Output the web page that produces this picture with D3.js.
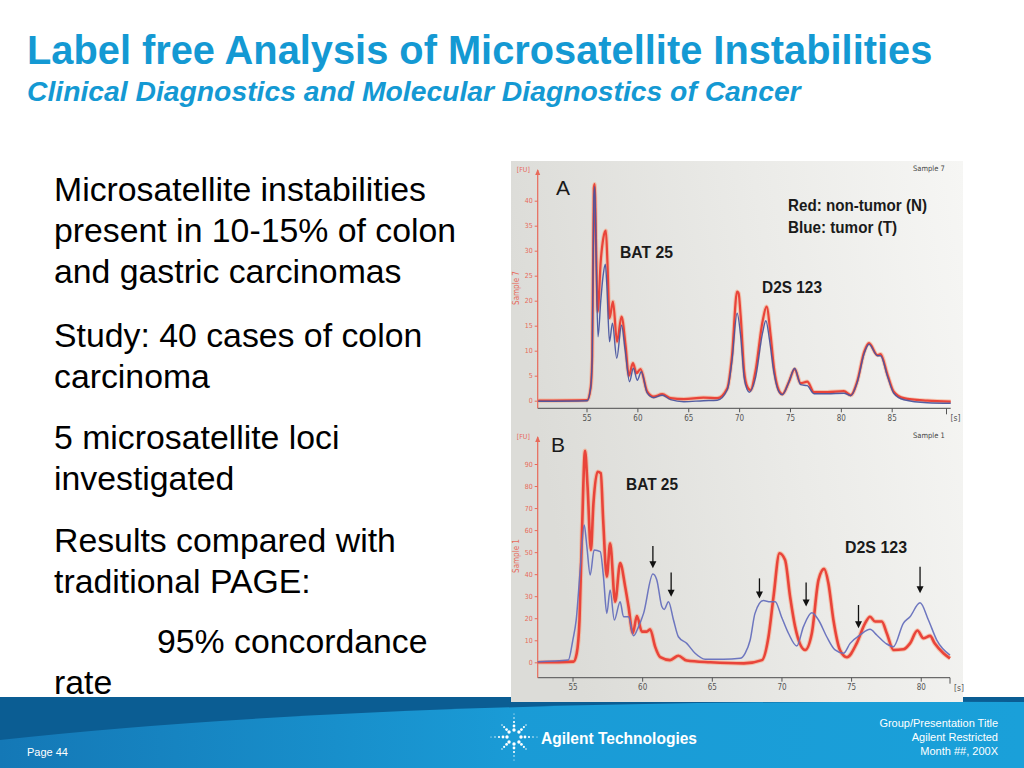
<!DOCTYPE html>
<html><head><meta charset="utf-8">
<script src="https://cdn.jsdelivr.net/npm/d3@7"></script>
<style>html,body{margin:0;padding:0;background:#fff;}svg{display:block;}</style>
</head><body>
<svg id="slide" width="1024" height="768"></svg>
<script>
// ---------- data ----------
const ticksA_x = [55, 60, 65, 70, 75, 80, 85];
const ticksA_y = [0, 5, 10, 15, 20, 25, 30, 35, 40];
const ticksB_x = [55, 60, 65, 70, 75, 80];
const ticksB_y = [0, 10, 20, 30, 40, 50, 60, 70, 80, 90];

// Panel A: [time s, FU]
const redA = [[50.25,0],[55.07,0.1],[55.4,2.5],[55.56,9],[55.72,42.5],[55.8,43.3],[55.95,30],[56.1,17.8],[56.4,28],[56.65,32.5],[56.9,34],[57.05,28],[57.26,16.5],[57.6,19.8],[58.0,11.8],[58.44,16.8],[58.84,11],[59.16,5],[59.56,7.5],[59.92,5.5],[60.3,6.3],[60.97,1.8],[61.6,0.8],[62.44,1.3],[63.26,0.5],[64.57,0.3],[66.5,0.6],[67.85,0.5],[68.84,2.5],[69.3,9],[69.8,21.8],[69.95,21.5],[70.15,17],[70.5,5.8],[70.8,2.8],[71.13,2.1],[71.6,5.8],[72.3,15.8],[72.7,18.8],[73.1,13],[73.43,6.5],[73.9,2.1],[74.25,1.3],[74.9,3.8],[75.46,6.3],[76.05,3.5],[76.7,3.8],[77.36,1.7],[78.67,1.7],[80.3,1.9],[80.97,1.1],[81.6,3.8],[82.3,9.8],[82.77,11.5],[83.6,9.1],[83.9,9.3],[84.6,5.1],[85.2,1.8],[86.2,0.5],[88.5,0],[90.8,-0.2]];
const blueA = [[50.25,-0.1],[55.07,0],[55.4,2.5],[55.56,9],[55.72,41],[55.82,42.8],[55.95,28],[56.13,12.8],[56.4,20],[56.63,25],[56.85,27.3],[57.0,23],[57.26,11.8],[57.55,15.5],[57.97,8.5],[58.44,15.1],[58.8,10],[59.23,3.8],[59.6,6.5],[59.99,4.1],[60.38,5.8],[60.97,1.5],[61.6,0.6],[62.44,1.1],[63.26,0.2],[64.57,-0.2],[66.5,0],[67.85,0.1],[68.84,2.2],[69.3,8],[69.8,17.5],[70.15,13],[70.5,4.5],[70.8,2.2],[71.0,1.7],[71.6,4.5],[72.3,13.5],[72.63,16],[73.0,12],[73.43,5.5],[73.9,1.8],[74.25,1.2],[74.9,3.8],[75.46,6.5],[76.05,3.2],[76.7,3.0],[77.36,1.4],[78.67,1.4],[80.3,1.5],[80.97,1.0],[81.6,3.6],[82.3,9.5],[82.77,11.3],[83.6,9.0],[83.9,9.0],[84.6,4.8],[85.2,1.5],[86.2,0.2],[88.5,-0.4],[90.8,-0.5]];

// Panel B: [time s, FU]
const redB = [[52.5,0],[55.07,0.3],[55.3,4],[55.5,19],[55.67,57],[55.9,96],[56.08,79.7],[56.32,51],[56.5,72],[56.8,86.5],[57.03,85.8],[57.2,64.6],[57.46,38.9],[57.7,54],[58.06,27.5],[58.42,45],[58.78,34.3],[59.02,25.3],[59.33,13.2],[59.62,21],[59.98,13.9],[60.33,13.9],[60.57,15],[60.93,7.1],[61.3,2.3],[62.0,1],[62.6,3],[63.2,0.8],[64.9,0],[67.3,-0.5],[68.6,1],[69.07,11.6],[69.43,29.8],[69.86,49.5],[70.26,46.4],[70.62,29.8],[70.98,16.2],[71.7,5.6],[72.18,13.2],[72.66,37.4],[73.06,42.4],[73.37,35.9],[73.73,19.2],[74.2,5.6],[74.7,2.3],[75.4,8.6],[76.0,17.7],[76.36,20.7],[76.72,18.5],[77.2,18.5],[77.56,13.2],[78.04,5.6],[78.75,5.9],[79.23,8.6],[79.76,14.4],[80.19,10.9],[80.67,12],[81.0,8.6],[81.63,4.1],[82.1,1.8]];
const blueB = [[52.5,0.3],[54.7,1],[55.02,10],[55.26,19],[55.55,42],[55.84,62.3],[56.03,52.5],[56.27,39.6],[56.55,51],[56.99,50.2],[57.22,38.9],[57.46,22.2],[57.7,32.8],[58.0,19.2],[58.42,27.5],[58.66,20.7],[59.02,20.7],[59.38,12],[59.74,16.2],[60.1,22.2],[60.77,40.1],[61.05,37.4],[61.41,25.3],[61.58,24],[61.89,27.5],[62.25,19.2],[62.6,11.6],[63.2,8.6],[63.8,4.1],[64.52,1.4],[65.84,1.4],[67.03,1.8],[67.39,4.1],[67.75,10],[68.1,22.2],[68.7,28],[69.19,27.5],[69.55,27.5],[70.0,20.7],[70.5,13.2],[71.1,7.4],[71.58,16.2],[72.18,22.5],[72.66,19.2],[73.25,11.6],[73.85,5.6],[74.45,4.1],[74.93,8.6],[75.65,12.4],[76.36,15],[76.84,12.4],[77.56,8.3],[78.04,7.1],[78.75,17.7],[79.23,20.7],[79.95,27],[80.55,19.2],[81.15,10.1],[82.1,3.3]];

// arrows in B: [time, FU top, FU tip]
const arrowsB = [[60.77,52.8,42.7],[62.08,40.7,29.8],[68.42,38.1,29.0],[71.77,36.2,25.3],[75.53,26.0,15.4],[79.95,43.4,31.3]];

const bodyParagraphs = [
  ["Microsatellite instabilities", "present in 10-15% of colon", "and gastric carcinomas"],
  ["Study: 40 cases of colon", "carcinoma"],
  ["5 microsatellite loci", "investigated"],
  ["Results compared with", "traditional PAGE:"],
  ["95% concordance", "rate"]
];
const footerRight = ["Group/Presentation Title", "Agilent Restricted", "Month ##, 200X"];

// ---------- drawing ----------
const svg = d3.select("#slide");
const defs = svg.append("defs");
const bg = defs.append("linearGradient").attr("id","imgbg").attr("x1","0").attr("x2","1").attr("y1","0.2").attr("y2","0");
bg.append("stop").attr("offset","0").attr("stop-color","#dcdcd8");
bg.append("stop").attr("offset","0.55").attr("stop-color","#ebebe8");
bg.append("stop").attr("offset","1").attr("stop-color","#f6f6f4");
const fg = defs.append("linearGradient").attr("id","footbg").attr("x1","0").attr("x2","1").attr("y1","0").attr("y2","0");
fg.append("stop").attr("offset","0").attr("stop-color","#1478b6");
fg.append("stop").attr("offset","0.5").attr("stop-color","#1a9bd6");
fg.append("stop").attr("offset","1").attr("stop-color","#1aa0d9");

const sans = "Liberation Sans, Arial, sans-serif";
// Title
svg.append("text").attr("x",27).attr("y",64).attr("fill","#1499d3")
  .attr("font-family",sans).attr("font-weight","bold").attr("font-size",39.8)
  .text("Label free Analysis of Microsatellite Instabilities");
svg.append("text").attr("x",27).attr("y",101).attr("fill","#1499d3")
  .attr("font-family",sans).attr("font-weight","bold").attr("font-style","italic").attr("font-size",28.3)
  .text("Clinical Diagnostics and Molecular Diagnostics of Cancer");

// Body text
const baselines = [[201,242,283],[347,388],[449,490],[552,593],[653,694]];
bodyParagraphs.forEach((p,i)=>{
  p.forEach((line,j)=>{
    const indent = (i===4 && j===0) ? 157 : 54;
    svg.append("text").attr("x",indent).attr("y",baselines[i][j]).attr("fill","#000")
      .attr("font-family",sans).attr("font-size",33.8)
      .text(line);
  });
});

// Footer
svg.append("rect").attr("x",0).attr("y",697).attr("width",1024).attr("height",71).attr("fill","#0b5d93");
svg.append("path").attr("d","M0,740 Q380,698 1024,702 L1024,768 L0,768 Z").attr("fill","url(#footbg)");

// Chart image background
svg.append("rect").attr("x",511).attr("y",161).attr("width",452).attr("height",541).attr("fill","url(#imgbg)");

const narrow = "Liberation Sans Narrow, DejaVu Sans Condensed, Arial Narrow, sans-serif";
const axisRed = "#e86a5a";

function panel(cfg){
  const g = svg.append("g");
  const x = d3.scaleLinear().domain(cfg.xd).range(cfg.xr);
  const y = d3.scaleLinear().domain(cfg.yd).range(cfg.yr);
  const xa = g.append("g").attr("transform",`translate(0,${cfg.axisY})`)
    .call(d3.axisBottom(x).tickValues(cfg.xt).tickSize(4).tickPadding(3).tickFormat(d3.format("d")));
  xa.select(".domain").attr("stroke","#6a6a6a").attr("stroke-width",1.2).attr("d",`M${cfg.xr[0]},0H${cfg.xr[1]}`);
  xa.selectAll(".tick line").attr("stroke","#555");
  xa.selectAll(".tick text").attr("fill","#555").attr("font-size",8).attr("font-family",narrow);
  g.append("line").attr("x1",cfg.endTick).attr("x2",cfg.endTick).attr("y1",cfg.axisY).attr("y2",cfg.axisY+6).attr("stroke","#555");
  g.append("text").attr("x",cfg.endTick+4).attr("y",cfg.axisY+13).attr("fill","#555").attr("font-size",8.5).attr("font-family",narrow).text("[s]");
  const ya = g.append("g").attr("transform",`translate(${cfg.xr[0]},0)`)
    .call(d3.axisLeft(y).tickValues(cfg.yt).tickSize(3).tickPadding(2));
  ya.select(".domain").attr("stroke",axisRed).attr("stroke-width",1.2).attr("d",`M0,${cfg.axisY}V${cfg.yTop}`);
  ya.selectAll(".tick line").attr("stroke",axisRed);
  ya.selectAll(".tick text").attr("fill",axisRed).attr("font-size",7).attr("font-family",narrow);
  g.append("path").attr("d",`M${cfg.xr[0]-2.5},${cfg.yTop+5}L${cfg.xr[0]},${cfg.yTop-1}L${cfg.xr[0]+2.5},${cfg.yTop+5}Z`).attr("fill",axisRed);
  g.append("text").attr("x",cfg.xr[0]-21).attr("y",cfg.yTop+2).attr("fill",axisRed).attr("font-size",7).attr("font-family",narrow).text("[FU]");
  g.append("text").attr("transform",`translate(${cfg.xr[0]-19},${cfg.yTitleY}) rotate(-90)`).attr("text-anchor","middle")
    .attr("fill",axisRed).attr("font-size",8).attr("font-family",narrow).text(cfg.sample);
  g.append("text").attr("x",cfg.sampleX).attr("y",cfg.yTop+1).attr("fill","#444").attr("font-size",7.5).attr("font-family",narrow).text(cfg.sample);
  const line = d3.line().x(d=>x(d[0])).y(d=>y(d[1])).curve(d3.curveMonotoneX);
  g.append("path").datum(cfg.red).attr("d",line).attr("fill","none").attr("stroke","#f7a37e").attr("stroke-width",cfg.redW+2).attr("opacity",0.55);
  g.append("path").datum(cfg.red).attr("d",line).attr("fill","none").attr("stroke","#e9443a").attr("stroke-width",cfg.redW);
  g.append("path").datum(cfg.blue).attr("d",line).attr("fill","none").attr("stroke",cfg.blueC).attr("stroke-width",cfg.blueW).attr("opacity",0.95);
  return {g,x,y};
}

const A = panel({xd:[50.2,90.8], xr:[537.7,950.7], yd:[0,40], yr:[400.7,200.7], axisY:408.3, yTop:170,
  xt:ticksA_x, yt:ticksA_y, endTick:946.5, red:redA, blue:blueA, redW:2.2, blueW:1.4, blueC:"#4a56a0",
  sample:"Sample 7", sampleX:913, yTitleY:288});
const B = panel({xd:[52.5,82.1], xr:[537.7,950], yd:[0,90], yr:[662.3,464], axisY:677.7, yTop:437,
  xt:ticksB_x, yt:ticksB_y, endTick:950, red:redB, blue:blueB, redW:2.6, blueW:1.5, blueC:"#6670bd",
  sample:"Sample 1", sampleX:913, yTitleY:556});

// panel labels (condensed look via textLength)
function lab(x,y,t,size,len){
  svg.append("text").attr("x",x).attr("y",y).attr("fill","#1a1a1a").attr("font-size",size)
    .attr("font-family",sans).attr("font-weight","bold")
    .attr("textLength",len).attr("lengthAdjust","spacingAndGlyphs").text(t);
}
svg.append("text").attr("x",556).attr("y",195).attr("fill","#1a1a1a").attr("font-size",21).attr("font-family",sans).text("A");
svg.append("text").attr("x",551).attr("y",452).attr("fill","#1a1a1a").attr("font-size",21).attr("font-family",sans).text("B");
lab(620,258,"BAT 25",17,53);
lab(762,293,"D2S 123",17,60);
lab(788,211,"Red: non-tumor (N)",16.5,139);
lab(788,233,"Blue: tumor (T)",16.5,109);
lab(626,490,"BAT 25",17,52);
lab(845,553,"D2S 123",17,62);

// arrows
arrowsB.forEach(a=>{
  const ax = B.x(a[0]), y0 = B.y(a[1]), y1 = B.y(a[2]);
  svg.append("line").attr("x1",ax).attr("x2",ax).attr("y1",y0).attr("y2",y1-5).attr("stroke","#111").attr("stroke-width",1.3);
  svg.append("path").attr("d",`M${ax-3.5},${y1-7}L${ax},${y1}L${ax+3.5},${y1-7}Z`).attr("fill","#111");
});

// footer text
svg.append("text").attr("x",27).attr("y",756).attr("fill","#fff").attr("font-size",11).attr("font-family",sans).text("Page 44");
footerRight.forEach((t,i)=>{
  svg.append("text").attr("x",998).attr("y",727+i*14).attr("text-anchor","end").attr("fill","#fff")
    .attr("font-size",11).attr("font-family",sans).text(t);
});
// Agilent spark logo
const logo = svg.append("g").attr("transform","translate(514,737)");
d3.range(8).forEach(k=>{
  const ang = k*Math.PI/4;
  const long = (k%2===0);
  const dists = long ? [7,11,15,19,23] : [7,10.5,14,17];
  dists.forEach((r,j)=>{
    logo.append("circle").attr("cx",Math.cos(ang)*r).attr("cy",Math.sin(ang)*r)
      .attr("r",Math.max(0.55,1.7-j*0.32)).attr("fill","#fff");
  });
});
svg.append("text").attr("x",541).attr("y",744).attr("fill","#fff").attr("font-size",17).attr("font-weight","bold")
  .attr("font-family",sans).attr("textLength",156).attr("lengthAdjust","spacingAndGlyphs").text("Agilent Technologies");
</script>
</body></html>
